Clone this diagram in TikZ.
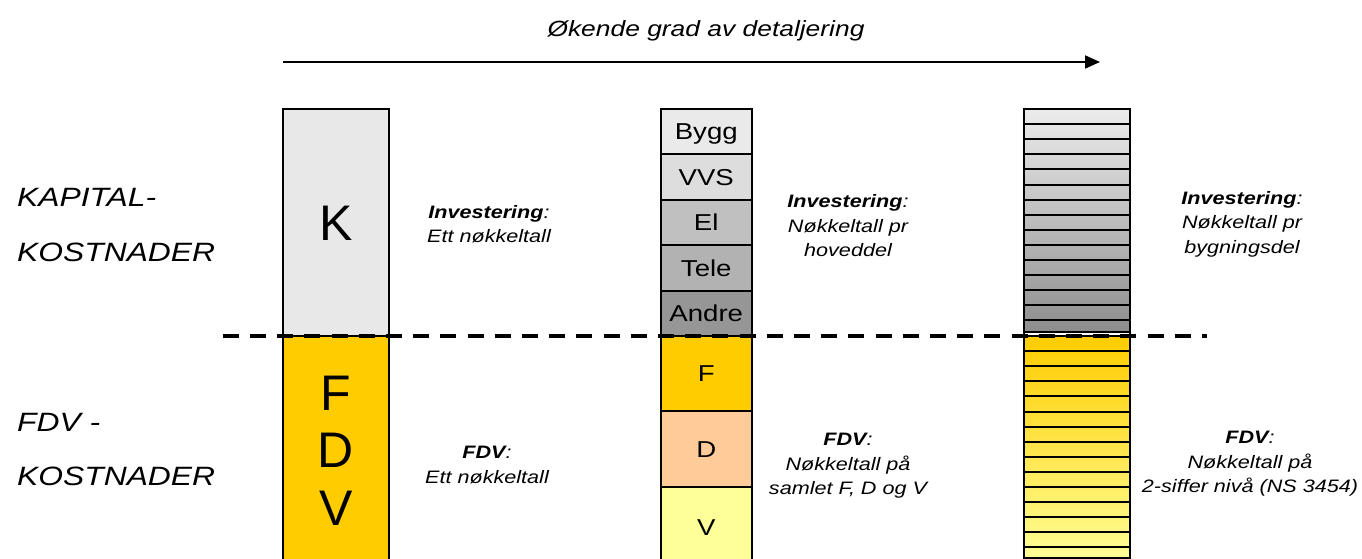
\documentclass[tikz,border=0pt]{standalone}
\usepackage{fontspec}
\setmainfont{Liberation Sans}[FakeStretch=1.2]
\newfontfamily\bigfont{Liberation Sans}
\usetikzlibrary{arrows.meta}

\definecolor{kgray}{HTML}{E8E8E8}
\definecolor{bygg}{HTML}{EAEAEA}
\definecolor{vvs}{HTML}{DDDDDD}
\definecolor{el}{HTML}{C0C0C0}
\definecolor{tele}{HTML}{B2B2B2}
\definecolor{andre}{HTML}{969696}
\definecolor{gold}{HTML}{FFCC00}
\definecolor{peach}{HTML}{FFCC99}
\definecolor{paleyellow}{HTML}{FFFF99}
\definecolor{stripetop}{HTML}{ECECEC}
\definecolor{stripebot}{HTML}{8C8C8C}

\begin{document}
\begin{tikzpicture}[x=1pt,y=-1pt,
  box/.style={draw=black, line width=2pt, inner sep=0pt, outer sep=0pt, anchor=north west},
  bigbox/.style={box, minimum width=106pt, font=\bigfont\fontsize{50}{57.5}\selectfont},
  midbox/.style={box, text height=16.5pt, text depth=0pt, minimum width=90.5pt, font=\fontsize{23}{27}\selectfont},
  note/.style={align=center, inner sep=0pt, font=\itshape\fontsize{18}{24.5}\selectfont},
  rowlabel/.style={anchor=base west, inner sep=0pt, font=\itshape\fontsize{26.5}{32}\selectfont},
  stripe/.style={draw=black, line width=2pt},
  divider/.style={line width=3.3pt, dash pattern=on 16pt off 11.2pt},
]
\path[use as bounding box] (0,0) rectangle (1362,559);

% heading and direction arrow
\node[text height=15.75pt, text depth=0pt, inner sep=0pt, font=\itshape\fontsize{22}{26}\selectfont] (title) at (706,29) {Økende grad av detaljering};
\coordinate (arrowStart) at (283,62);
\coordinate (arrowEnd) at (1100,62);
\draw[line width=2pt, -{Triangle[length=15pt,width=13pt]}] (arrowStart) -- (arrowEnd);

% row labels
\node[rowlabel] (kapA) at (17,206.7) {KAPITAL-};
\node[rowlabel] (kapB) at (17,261.7) {KOSTNADER};
\node[rowlabel] (fdvA) at (17,431.7) {FDV -};
\node[rowlabel] (fdvB) at (17,485) {KOSTNADER};

% column 1: one figure each
\node[bigbox, text height=35.8pt, text depth=0pt, fill=kgray, minimum height=227pt] (colK) at (283,109) {K};
\node[bigbox, fill=gold, minimum height=229pt, align=center] (colFDV) at (colK.south west) {F\\D\\V};

% column 2: main parts and F, D, V
\node[midbox, fill=bygg, minimum height=45.4pt] (bygg) at (661,109) {Bygg};
\node[midbox, fill=vvs, minimum height=45.4pt] (vvs) at (bygg.south west) {VVS};
\node[midbox, fill=el, minimum height=45.4pt] (el) at (vvs.south west) {El};
\node[midbox, fill=tele, minimum height=45.4pt] (tele) at (el.south west) {Tele};
\node[midbox, fill=andre, minimum height=45.4pt] (andre) at (tele.south west) {Andre};
\node[midbox, fill=gold, minimum height=75pt] (mF) at (andre.south west) {F};
\node[midbox, fill=peach, minimum height=76pt] (mD) at (mF.south west) {D};
\node[midbox, fill=paleyellow, minimum height=80pt] (mV) at (mD.south west) {V};

% column 3: building parts and two-digit codes
\node[box, fill=white, minimum width=106pt, minimum height=448.5pt] (col3) at (1024,109) {};
\foreach \k in {0,...,14} {
  \pgfmathsetmacro\ya{109+15.1*\k}
  \pgfmathsetmacro\yb{min(109+15.1*(\k+1),331.5)}
  \pgfmathsetmacro\pa{100*\k/15}
  \pgfmathsetmacro\pb{100*(\k+1)/15}
  \draw[stripe, top color=stripebot!\pa!stripetop, bottom color=stripebot!\pb!stripetop]
    (1024,\ya) rectangle (1130,\yb);
}
\foreach \k in {0,...,14} {
  \pgfmathsetmacro\ya{336+15.1*\k}
  \pgfmathsetmacro\yb{min(336+15.1*(\k+1),557.5)}
  \pgfmathsetmacro\pa{100*\k/15}
  \pgfmathsetmacro\pb{100*(\k+1)/15}
  \draw[stripe, top color=paleyellow!\pa!gold, bottom color=paleyellow!\pb!gold]
    (1024,\ya) rectangle (1130,\yb);
}

% notes beside each column
\node[note] (inv1) at (489,224) {\textbf{Investering}:\\Ett nøkkeltall};
\node[note] (fdv1) at (487,465) {\textbf{FDV}:\\Ett nøkkeltall};
\node[note] (inv2) at (848,226) {\textbf{Investering}:\\Nøkkeltall pr\\hoveddel};
\node[note] (fdv2) at (848,466) {\textbf{FDV}:\\Nøkkeltall på\\samlet F, D og V};
\node[note] (inv3) at (1242,224) {\textbf{Investering}:\\Nøkkeltall pr\\bygningsdel};
\node[note] (fdv3) at (1250,464) {\textbf{FDV}:\\Nøkkeltall på\\2-siffer nivå (NS 3454)};

% boundary between capital and FDV costs
\coordinate (dashL) at (222.7,336);
\coordinate (dashR) at (1207,336);
\draw[divider] (dashL) -- (dashR);
\end{tikzpicture}
\end{document}
